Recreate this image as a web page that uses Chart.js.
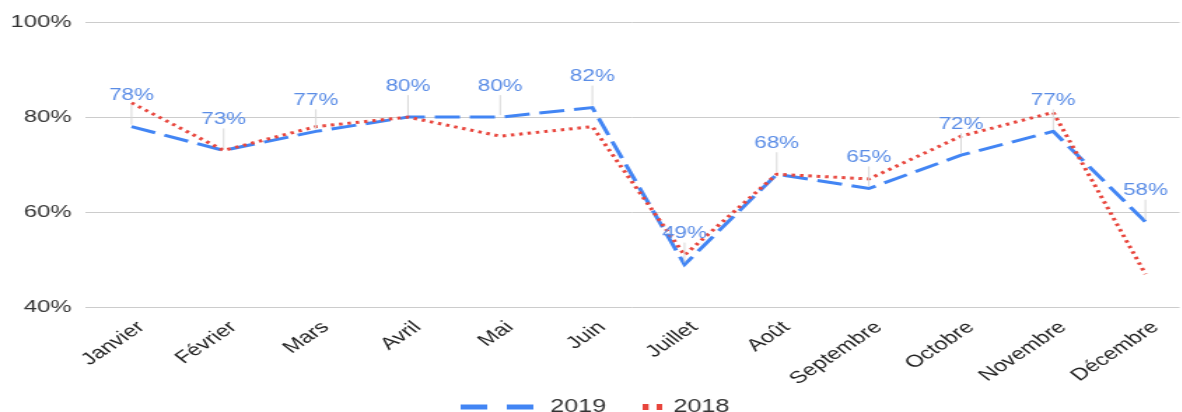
<!DOCTYPE html>
<html lang="fr">
<head>
    <meta charset="UTF-8">
    <title>2019 vs 2018</title>
    <script src="https://cdn.jsdelivr.net/npm/chart.js"></script>
    <style>
        html, body {
            margin: 0;
            padding: 0;
            background: #ffffff;
            overflow: hidden;
        }
        /* the reference is a horizontally stretched export, so draw narrow and stretch */
        .chart-container {
            position: relative;
            width: 844px;
            height: 412px;
            transform: scaleX(1.4);
            transform-origin: 0 0;
        }
    </style>
</head>
<body>

<div class="chart-container">
    <canvas id="monthChart"></canvas>
</div>

<script>
    // Data
    const months = ['Janvier', 'Février', 'Mars', 'Avril', 'Mai', 'Juin',
                    'Juillet', 'Août', 'Septembre', 'Octobre', 'Novembre', 'Décembre'];
    const values2019 = [78, 73, 77, 80, 80, 82, 49, 68, 65, 72, 77, 58];
    const values2018 = [83, 73, 78, 80, 76, 78, 51, 68, 67, 76, 81, 47];
    const yTicks = [40, 60, 80, 100];

    const blue = '#4285F4';
    const red = '#E8453C';
    const labelBlue = '#5B8DE6';
    const font = 'Arial, "Liberation Sans", sans-serif';

    const toPoints = arr => arr.map((v, i) => ({ x: i, y: v }));

    // Blue value labels with a thin grey leader line, above the 2019 points
    const valueLabels = {
        id: 'valueLabels',
        afterDatasetsDraw(chart) {
            const ctx = chart.ctx;
            const meta = chart.getDatasetMeta(0);
            ctx.save();
            ctx.font = '16px ' + font;
            ctx.textAlign = 'center';
            ctx.textBaseline = 'middle';
            meta.data.forEach((pt, i) => {
                const x = pt.x;
                const y = pt.y;
                ctx.strokeStyle = '#d9d9d9';
                ctx.lineWidth = 1;
                ctx.setLineDash([]);
                ctx.beginPath();
                ctx.moveTo(x, y - 2);
                ctx.lineTo(x, y - 22);
                ctx.stroke();
                ctx.fillStyle = labelBlue;
                ctx.fillText(values2019[i] + '%', x, y - 31);
            });
            ctx.restore();
        }
    };

    // Legend at the bottom, one dash style per series
    const bottomLegend = {
        id: 'bottomLegend',
        afterDraw(chart) {
            const ctx = chart.ctx;
            const y = 407;
            ctx.save();
            ctx.font = '18px ' + font;
            ctx.textBaseline = 'middle';
            ctx.fillStyle = '#333333';

            ctx.strokeStyle = blue;
            ctx.lineWidth = 5;
            ctx.setLineDash([19, 14]);
            ctx.beginPath();
            ctx.moveTo(329, y);
            ctx.lineTo(382, y);
            ctx.stroke();
            ctx.fillText(chart.data.datasets[0].label, 393, y);

            ctx.strokeStyle = red;
            ctx.lineWidth = 6;
            ctx.setLineDash([4.3, 5.7]);
            ctx.beginPath();
            ctx.moveTo(459, y);
            ctx.lineTo(473, y);
            ctx.stroke();
            ctx.fillText(chart.data.datasets[1].label, 481, y);
            ctx.restore();
        }
    };

    const ctx = document.getElementById('monthChart').getContext('2d');
    new Chart(ctx, {
        type: 'line',
        data: {
            datasets: [
                {
                    label: '2019',
                    data: toPoints(values2019),
                    borderColor: blue,
                    borderWidth: 3,
                    borderDash: [18, 7],
                    pointRadius: 0,
                    tension: 0,
                    order: 1
                },
                {
                    label: '2018',
                    data: toPoints(values2018),
                    borderColor: red,
                    borderWidth: 3,
                    borderDash: [2.5, 3.5],
                    pointRadius: 0,
                    tension: 0,
                    order: 0
                }
            ]
        },
        options: {
            responsive: true,
            maintainAspectRatio: false,
            animation: false,
            layout: {
                padding: { top: 22, right: 0, bottom: 21, left: 0 }
            },
            plugins: {
                legend: { display: false },
                tooltip: { enabled: false }
            },
            scales: {
                x: {
                    type: 'linear',
                    min: -0.5,
                    max: 11.37,
                    afterBuildTicks: scale => {
                        scale.ticks = months.map((m, i) => ({ value: i }));
                    },
                    ticks: {
                        autoSkip: false,
                        minRotation: 43,
                        maxRotation: 43,
                        padding: 2,
                        labelOffset: 7,
                        color: '#222222',
                        font: { family: font, size: 17 },
                        callback: v => months[v]
                    },
                    grid: { display: false },
                    border: { display: false }
                },
                y: {
                    min: 40,
                    max: 100,
                    afterBuildTicks: scale => {
                        scale.ticks = yTicks.map(v => ({ value: v }));
                    },
                    afterFit: scale => {
                        scale.width = 61;
                    },
                    ticks: {
                        padding: 10,
                        color: '#333333',
                        font: { family: font, size: 17 },
                        callback: v => v + '%'
                    },
                    grid: { color: '#cccccc', drawTicks: false, lineWidth: 1 },
                    border: { display: false }
                }
            }
        },
        plugins: [valueLabels, bottomLegend]
    });
</script>

</body>
</html>
